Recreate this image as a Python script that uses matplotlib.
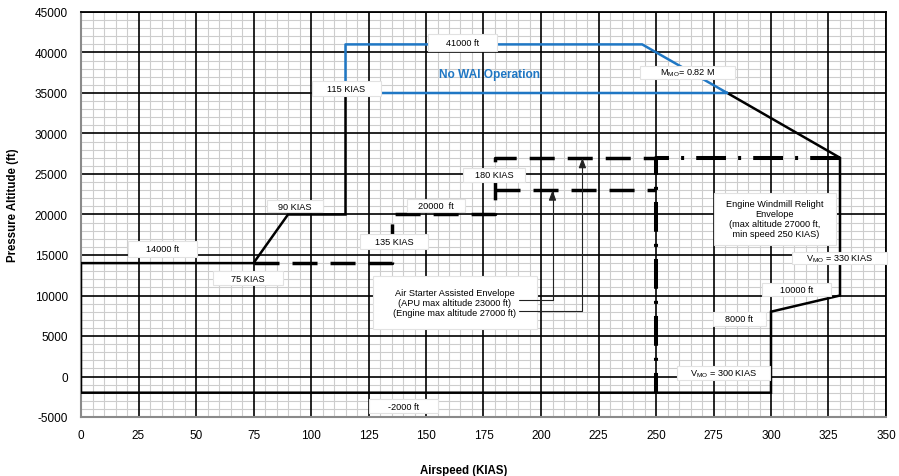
import numpy as np
import matplotlib
matplotlib.use('Agg')
import matplotlib.pyplot as plt
from matplotlib.patches import Rectangle
from matplotlib.ticker import MultipleLocator

plt.rcParams['font.family'] = ['Liberation Sans', 'DejaVu Sans']
plt.rcParams['mathtext.default'] = 'regular'
plt.rcParams['axes.unicode_minus'] = False

# flight envelope (KIAS, ft)
env_kias = [281, 330, 330, 300, 300, 0, 0, 75, 90, 115, 115]
env_alt = [35000, 27000, 10000, 8000, -2000, -2000, 14000, 14000, 20000, 20000, 35000]

# no WAI operation zone
wai_kias = [115, 115, 244, 281, 115]
wai_alt = [35000, 41000, 41000, 35000, 35000]

# air starter assisted envelope
air_kias = [75, 135, 135, 180, 180, 250]
air_alt = [14000, 14000, 20000, 20000, 27000, 27000]
apu_kias = [180, 250]
apu_alt = [23000, 23000]

# engine windmill relight envelope
wind_kias = [330, 250, 250]
wind_alt = [27000, 27000, -2000]

# labels: text, x, y, box width (kt), box height (ft)
lab_txt = ['41000 ft', '115 KIAS', r'M$_{MO}$= 0.82 M', '90 KIAS', '20000  ft', '180 KIAS',
           '135 KIAS', '14000 ft', '75 KIAS', '-2000 ft', r'V$_{MO}$ = 330 KIAS', '10000 ft',
           '8000 ft', r'V$_{MO}$ = 300 KIAS',
           'Air Starter Assisted Envelope\n(APU max altitude 23000 ft)\n(Engine max altitude 27000 ft)',
           'Engine Windmill Relight\nEnvelope\n(max altitude 27000 ft,\n min speed 250 KIAS)']
lab_x = [165.9, 115.4, 263.7, 93.0, 154.3, 179.6, 136.1, 35.4, 72.6, 140.2, 329.8, 311.1,
         286.3, 279.3, 162.6, 301.7]
lab_y = [41235, 35556, 37531, 21049, 21111, 24877, 16667, 15741, 12160, -3642, 14630, 10741,
         7099, 432, 9136, 19506]
lab_w = [30, 30, 41.3, 24.3, 25, 27, 29.6, 30, 30.4, 30, 41.3, 30, 23, 40.4, 71.3, 53]
lab_h = [2100, 1850, 1600, 1400, 1600, 1730, 1850, 1975, 1730, 1730, 1480, 1600, 1730, 1730, 6540, 6420]

fig = plt.figure(figsize=(8.99, 4.77), dpi=100)
ax = fig.add_axes([81/899, 1-418/477, 805/899, 405/477])

ax.set_xlim(0, 350)
ax.set_ylim(-5000, 45000)
ax.xaxis.set_major_locator(MultipleLocator(25))
ax.yaxis.set_major_locator(MultipleLocator(5000))
ax.xaxis.set_minor_locator(MultipleLocator(5))
ax.yaxis.set_minor_locator(MultipleLocator(1000))
ax.set_axisbelow(True)
ax.grid(which='minor', color='#cdcdcd', lw=0.8)
# major grid drawn by hand so it sits over the minor one
ax.vlines(np.arange(25, 351, 25), -5000, 45000, color='black', lw=1.2, zorder=1)
ax.hlines(np.arange(0, 45001, 5000), 0, 350, color='black', lw=1.2, zorder=1)
ax.tick_params(which='both', length=0)
ax.tick_params(axis='y', pad=9.5, labelsize=8.5)
ax.tick_params(axis='x', pad=9, labelsize=8.5)
for s in ['left', 'bottom']:
    ax.spines[s].set_color('#8a8a8a')
    ax.spines[s].set_linewidth(1.5)
for s in ['top', 'right']:
    ax.spines[s].set_color('black')
    ax.spines[s].set_linewidth(1.3)

ax.plot(env_kias, env_alt, color='black', lw=1.8, zorder=3, solid_joinstyle='miter')
ax.plot(wai_kias, wai_alt, color='#1f77c4', lw=1.8, zorder=3)
ax.plot(air_kias, air_alt, color='black', lw=2.5, ls=(0, (7.2, 3.75)), zorder=3)
ax.plot(apu_kias, apu_alt, color='black', lw=2.5, ls=(0, (7.2, 3.75)), zorder=3)
ax.plot(wind_kias, wind_alt, color='black', lw=2.9, ls=(0, (7.4, 3, 0.75, 3)),
        dash_capstyle='butt', zorder=3)

ax.text(177.4, 37346, 'No WAI Operation', color='#1f77c4', fontsize=8.6, fontweight='bold',
        ha='center', va='center', zorder=5)

for t, x, y, w, h in zip(lab_txt, lab_x, lab_y, lab_w, lab_h):
    ax.add_patch(Rectangle((x - w/2, y - h/2), w, h, fc='white', ec='#e2e2e2', lw=0.8,
                           zorder=4, clip_on=False))
    ax.text(x, y, t, fontsize=6.6, ha='center', va='center', zorder=5, linespacing=1.15)

# callout arrows from the air starter box
for xa, ya, y0 in [(205, 23000, 9481), (218, 27000, 8049)]:
    ax.annotate('', xy=(xa, ya), xytext=(190.4, y0),
                arrowprops=dict(arrowstyle='-|>,head_length=0.6,head_width=0.22', color='#222222',
                                lw=0.8, connectionstyle='angle,angleA=0,angleB=90,rad=0',
                                shrinkA=0, shrinkB=0), zorder=5)

fig.text(464/899, 1-471/477, 'Airspeed (KIAS)', fontsize=8.3, fontweight='bold',
         ha='center', va='center')
fig.text(13/899, 1-205/477, 'Pressure Altitude (ft)', fontsize=8.3, fontweight='bold',
         ha='center', va='center', rotation=90)

plt.savefig('out.png', dpi=100)
